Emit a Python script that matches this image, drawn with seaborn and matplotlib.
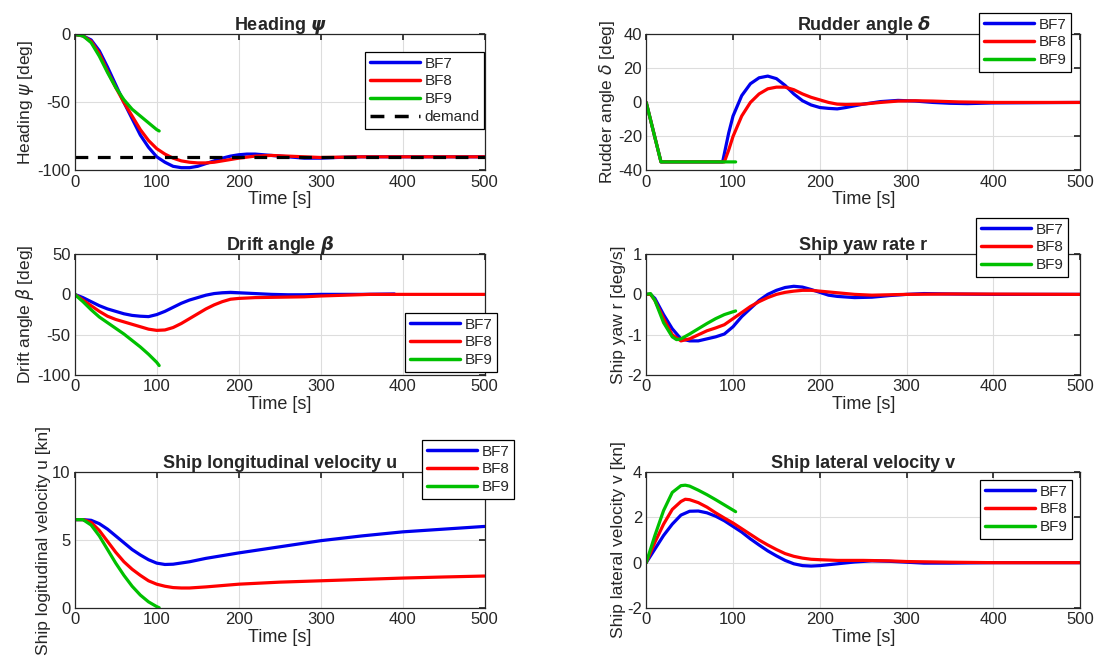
import numpy as np
import pandas as pd
import seaborn as sns
import matplotlib.pyplot as plt
from matplotlib.lines import Line2D

cases = ["BF7", "BF8", "BF9"]
colors = {"BF7": "#0000ee", "BF8": "#ff0000", "BF9": "#00c000"}

# heading psi [deg]
psi_t7 = [0, 10, 20, 30, 40, 50, 60, 70, 80, 90, 100, 110, 120, 130, 140, 150, 160, 170, 180, 190,
          200, 210, 220, 230, 240, 260, 280, 300, 320, 350, 400, 500]
psi_7 = [0, -1, -4, -12, -24, -37, -50, -62, -74, -83, -90, -94, -97, -98, -98, -97, -95, -93, -91, -89.5,
         -88.5, -88, -88, -88.5, -89, -90, -91, -91, -90.5, -90, -90, -90]
psi_t8 = [0, 10, 20, 30, 40, 50, 60, 70, 80, 90, 100, 110, 120, 130, 140, 150, 160, 170, 180, 200,
          220, 240, 260, 280, 300, 350, 500]
psi_8 = [0, -1, -5, -14, -27, -39, -50, -60, -70, -78, -84, -88, -91, -93, -94, -94.5, -94.5, -94, -93, -91,
         -89.5, -89, -89.5, -90, -90.5, -90, -90]
psi_t9 = [0, 10, 20, 30, 40, 50, 60, 70, 80, 90, 100, 103]
psi_9 = [0, -1, -6, -16, -28, -39, -48, -55, -60, -65, -70, -71]
demand_t = [0, 500]
demand = [-90, -90]

# rudder angle delta [deg]
dl_t7 = [0, 17, 88, 95, 100, 110, 120, 130, 140, 150, 160, 170, 180, 190, 200, 210, 220, 230, 240, 250,
         270, 290, 310, 330, 350, 370, 400, 500]
dl_7 = [0, -35, -35, -18, -8, 4, 11, 14.5, 15.5, 14, 10, 5, 1, -1.5, -3, -3.5, -3.8, -3, -2, -1,
        0.5, 1.2, 0.8, 0, -0.5, -0.7, -0.3, 0]
dl_t8 = [0, 17, 90, 95, 100, 110, 120, 130, 140, 150, 160, 170, 180, 190, 200, 210, 220, 230, 250,
         270, 290, 310, 330, 360, 400, 500]
dl_8 = [0, -35, -35, -28, -20, -8, 0, 5, 8, 9, 9, 7.5, 5, 3, 1.5, 0, -1, -1.2, -1,
        0, 0.8, 1, 0.8, 0.3, 0, 0]
dl_t9 = [0, 17, 103]
dl_9 = [0, -35, -35]

# drift angle beta [deg]
bt_t7 = [0, 10, 20, 30, 40, 50, 60, 70, 80, 90, 100, 110, 120, 130, 140, 150, 160, 170, 180, 190,
         200, 220, 240, 260, 280, 300, 350, 390]
bt_7 = [0, -4, -9, -14, -18, -21, -24, -26, -27, -27.5, -25, -21, -16, -11, -7, -4, -1, 1, 2, 2.5,
        2, 1, 0, -0.5, -0.5, 0, 0, 0.5]
bt_t8 = [0, 10, 20, 30, 40, 50, 60, 70, 80, 90, 100, 110, 120, 130, 140, 150, 160, 170, 180, 190,
         200, 220, 250, 280, 300, 330, 360, 500]
bt_8 = [0, -7, -14, -21, -27, -31, -34, -37, -40, -43, -44.5, -44, -41, -36, -30, -24, -18, -13, -9, -6,
        -5, -4, -3.5, -3, -2, -1, 0, 0]
bt_t9 = [0, 10, 20, 30, 40, 50, 60, 70, 80, 90, 100, 103]
bt_9 = [0, -9, -19, -28, -35, -42, -49, -57, -65, -74, -84, -88]

# yaw rate r [deg/s]
r_t7 = [0, 5, 10, 20, 30, 40, 50, 60, 70, 80, 90, 100, 110, 120, 130, 140, 150, 160, 170, 180,
        190, 200, 210, 220, 240, 260, 280, 300, 320, 350, 400, 500]
r_7 = [0, 0, -0.1, -0.5, -0.85, -1.1, -1.15, -1.15, -1.1, -1.05, -0.98, -0.8, -0.55, -0.35, -0.15, 0, 0.1, 0.17, 0.2, 0.18,
       0.12, 0.05, -0.02, -0.05, -0.08, -0.07, -0.03, 0, 0.02, 0.01, 0, 0]
r_t8 = [0, 5, 10, 20, 30, 40, 50, 60, 70, 80, 90, 100, 110, 120, 130, 140, 150, 160, 170, 180,
        190, 200, 220, 240, 260, 300, 350, 500]
r_8 = [0, 0, -0.15, -0.6, -1.0, -1.15, -1.1, -1.0, -0.9, -0.83, -0.75, -0.6, -0.45, -0.3, -0.18, -0.08, 0, 0.05, 0.08, 0.1,
       0.1, 0.08, 0.04, 0, -0.02, 0, 0.01, 0]
r_t9 = [0, 5, 10, 20, 30, 35, 40, 50, 60, 70, 80, 90, 100, 103]
r_9 = [0, 0.02, -0.15, -0.7, -1.05, -1.12, -1.1, -0.98, -0.85, -0.72, -0.6, -0.5, -0.43, -0.41]

# longitudinal velocity u [kn]
u_t7 = [0, 10, 20, 30, 40, 50, 60, 70, 80, 90, 100, 110, 120, 140, 160, 180, 200, 250, 300, 350, 400, 450, 500]
u_7 = [6.5, 6.5, 6.45, 6.2, 5.8, 5.3, 4.8, 4.3, 3.9, 3.55, 3.3, 3.2, 3.22, 3.4, 3.65, 3.85, 4.05, 4.5, 4.95, 5.3, 5.6, 5.8, 6.0]
u_t8 = [0, 10, 20, 30, 40, 50, 60, 70, 80, 90, 100, 110, 120, 130, 140, 160, 180, 200, 250, 300, 350, 400, 450, 500]
u_8 = [6.5, 6.5, 6.3, 5.7, 4.9, 4.1, 3.4, 2.85, 2.4, 2.0, 1.75, 1.6, 1.5, 1.47, 1.47, 1.55, 1.65, 1.75, 1.9, 2.0, 2.1, 2.2, 2.28, 2.35]
u_t9 = [0, 10, 20, 30, 40, 50, 60, 70, 80, 90, 100, 103]
u_9 = [6.5, 6.5, 6.1, 5.3, 4.3, 3.3, 2.4, 1.6, 0.95, 0.45, 0.1, 0.02]

# lateral velocity v [kn]
v_t7 = [0, 10, 20, 30, 40, 50, 60, 70, 80, 90, 100, 110, 120, 130, 140, 150, 160, 170, 180, 190,
        200, 220, 240, 260, 280, 300, 320, 350, 400, 500]
v_7 = [0, 0.6, 1.2, 1.7, 2.1, 2.27, 2.28, 2.2, 2.05, 1.85, 1.6, 1.35, 1.05, 0.78, 0.52, 0.3, 0.1, -0.05, -0.13, -0.15,
       -0.13, -0.05, 0.03, 0.08, 0.06, 0.02, -0.02, -0.02, 0, 0]
v_t8 = [0, 10, 20, 30, 40, 45, 50, 60, 70, 80, 90, 100, 110, 120, 130, 140, 150, 160, 170, 180,
        190, 200, 220, 250, 280, 300, 350, 400, 500]
v_8 = [0, 0.9, 1.7, 2.35, 2.7, 2.8, 2.78, 2.65, 2.45, 2.2, 1.97, 1.75, 1.5, 1.25, 1.0, 0.78, 0.58, 0.4, 0.28, 0.2,
       0.15, 0.13, 0.1, 0.1, 0.08, 0.05, 0.02, 0, 0]
v_t9 = [0, 10, 20, 30, 40, 45, 50, 60, 70, 80, 90, 100, 103]
v_9 = [0, 1.2, 2.3, 3.1, 3.4, 3.42, 3.38, 3.2, 3.0, 2.78, 2.55, 2.32, 2.25]

sns.set_theme(style="whitegrid")
plt.rcParams["font.family"] = ["Liberation Sans", "DejaVu Sans"]
plt.rcParams["mathtext.fontset"] = "dejavusans"
plt.rcParams["axes.unicode_minus"] = False
plt.rcParams["font.size"] = 11.5

fig = plt.figure(figsize=(10.99, 6.63), dpi=100)

def to_frame(ts, ys):
    frames = []
    for name, t, y in zip(cases, ts, ys):
        frames.append(pd.DataFrame({"t": t, "y": y, "case": name}))
    return pd.concat(frames, ignore_index=True)

def panel(rect, ts, ys, title, ylabel, ylim, yticks, leg_xy, extra=False):
    ax = fig.add_axes(rect)
    df = to_frame(ts, ys)
    sns.lineplot(data=df, x="t", y="y", hue="case", palette=colors, linewidth=2.3,
                 estimator=None, sort=False, legend=False, ax=ax)
    handles = [Line2D([], [], color=colors[c], lw=2.5) for c in cases]
    labels = list(cases)
    if extra:
        dd = pd.DataFrame({"t": demand_t, "y": demand})
        sns.lineplot(data=dd, x="t", y="y", color="black", linestyle="--", linewidth=2.3,
                     estimator=None, ax=ax)
        ax.lines[-1].set_dashes((4, 3))
        handles.append(Line2D([], [], color="black", lw=2.5, dashes=(4, 3)))
        labels.append("demand")
    ax.set_xlim(0, 500)
    ax.set_ylim(*ylim)
    ax.set_xticks([0, 100, 200, 300, 400, 500])
    ax.set_yticks(yticks)
    ax.set_title(title, fontsize=13, fontweight="bold", pad=3)
    ax.set_xlabel("Time [s]", fontsize=13, labelpad=1)
    ax.set_ylabel(ylabel, fontsize=12.5, labelpad=1)
    ax.grid(True, color="#dddddd", linewidth=0.8)
    ax.tick_params(direction="in", length=4, top=True, right=True, labelsize=12,
                   colors="#262626", pad=3)
    for s in ax.spines.values():
        s.set_color("#262626")
        s.set_linewidth(0.9)
    leg = ax.legend(handles, labels, loc="upper left", bbox_to_anchor=leg_xy,
                    bbox_transform=fig.transFigure, fancybox=False, framealpha=1,
                    edgecolor="black", fontsize=11, handlelength=3.3, handletextpad=0.3,
                    borderpad=0.3, labelspacing=0.25, borderaxespad=0)
    leg.get_frame().set_linewidth(0.9)
    return ax

L, WL = 0.068, 0.373
R, WR = 0.588, 0.395
rows = [(0.743, 0.205), (0.434, 0.183), (0.083, 0.205)]

panel([L, rows[0][0], WL, rows[0][1]], [psi_t7, psi_t8, psi_t9], [psi_7, psi_8, psi_9],
      r"Heading $\boldsymbol{\psi}$", r"Heading $\psi$ [deg]", (-100, 0), [-100, -50, 0],
      (365 / 1099, 1 - 52 / 663), extra=True)
panel([R, rows[0][0], WR, rows[0][1]], [dl_t7, dl_t8, dl_t9], [dl_7, dl_8, dl_9],
      r"Rudder angle $\boldsymbol{\delta}$", r"Rudder angle $\delta$ [deg]", (-40, 40),
      [-40, -20, 0, 20, 40], (979 / 1099, 1 - 13 / 663))
panel([L, rows[1][0], WL, rows[1][1]], [bt_t7, bt_t8, bt_t9], [bt_7, bt_8, bt_9],
      r"Drift angle $\boldsymbol{\beta}$", r"Drift angle $\beta$ [deg]", (-100, 50),
      [-100, -50, 0, 50], (405 / 1099, 1 - 313 / 663))
panel([R, rows[1][0], WR, rows[1][1]], [r_t7, r_t8, r_t9], [r_7, r_8, r_9],
      "Ship yaw rate r", "Ship yaw r [deg/s]", (-2, 1), [-2, -1, 0, 1],
      (976 / 1099, 1 - 218 / 663))
panel([L, rows[2][0], WL, rows[2][1]], [u_t7, u_t8, u_t9], [u_7, u_8, u_9],
      "Ship longitudinal velocity u", "Ship logitudinal velocity u [kn]", (0, 10), [0, 5, 10],
      (422 / 1099, 1 - 440 / 663))
panel([R, rows[2][0], WR, rows[2][1]], [v_t7, v_t8, v_t9], [v_7, v_8, v_9],
      "Ship lateral velocity v", "Ship lateral velocity v [kn]", (-2, 4), [-2, 0, 2, 4],
      (980 / 1099, 1 - 480 / 663))

fig.savefig("out.png", dpi=100, facecolor="white")
